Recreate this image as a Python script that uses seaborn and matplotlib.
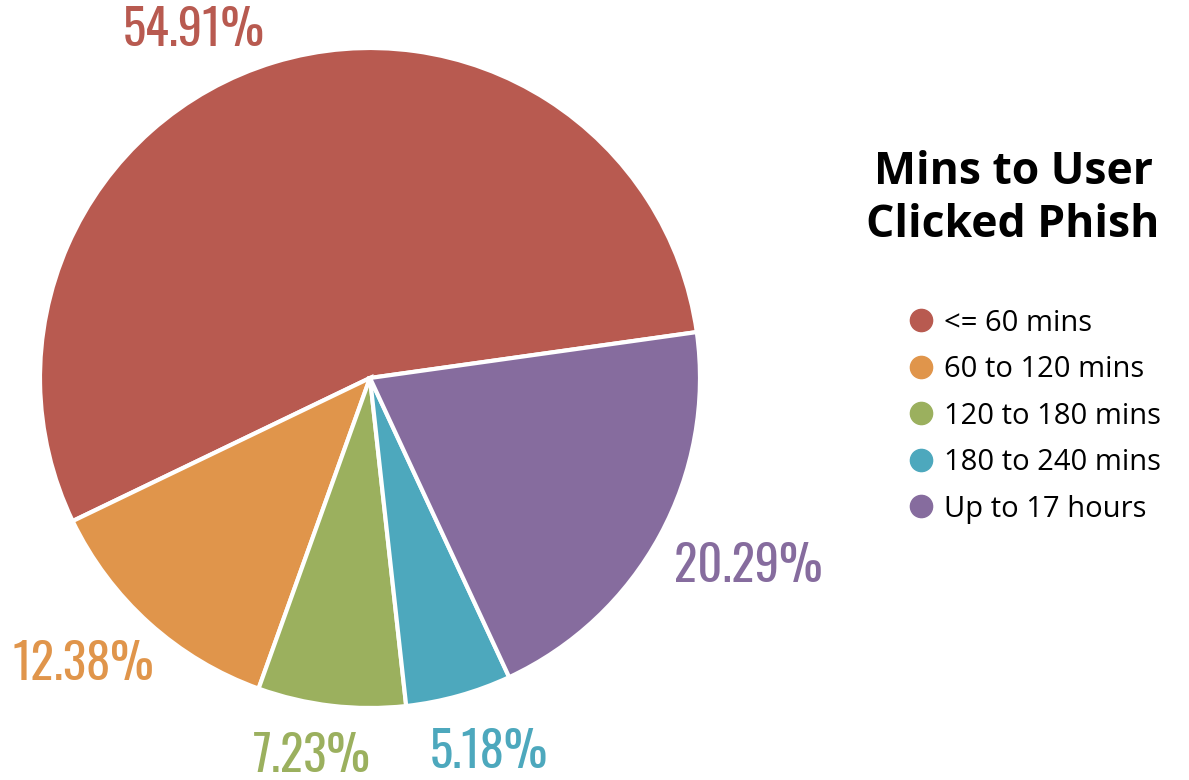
import numpy as np
import matplotlib
matplotlib.use("Agg")
import matplotlib.pyplot as plt
from matplotlib.lines import Line2D
import seaborn as sns

# data
categories = ["<= 60 mins", "60 to 120 mins", "120 to 180 mins", "180 to 240 mins", "Up to 17 hours"]
shares = [54.91, 12.38, 7.23, 5.18, 20.29]
colors = ["#B85A50", "#E0954B", "#9BB05E", "#4DA8BD", "#866C9E"]

sns.set_theme(style="white")
plt.rcParams["font.family"] = ["Open Sans", "DejaVu Sans"]
plt.rcParams["text.color"] = "black"

fig = plt.figure(figsize=(11.89, 7.80), dpi=100)
ax = fig.add_axes([40 / 1189, 72 / 780, 660 / 1189, 660 / 780])

wedges, _ = ax.pie(shares, colors=colors, startangle=8, counterclock=True,
                   wedgeprops=dict(edgecolor="white", linewidth=3))
ax.set_xlim(-1, 1)
ax.set_ylim(-1, 1)
ax.set_aspect("equal")
ax.axis("off")

# percentage labels around the pie
angle_shift = [10, -3, -2, 2, 2]
label_r = [1.18, 1.23, 1.16, 1.19, 1.28]
for w, val, c, da, r in zip(wedges, shares, colors, angle_shift, label_r):
    mid = np.deg2rad((w.theta1 + w.theta2) / 2 + da)
    ax.text(r * np.cos(mid), r * np.sin(mid), f"{val:.2f}%", color=c,
            ha="center", va="center", fontsize=35,
            family=["Oswald", "Roboto Condensed", "DejaVu Sans"], clip_on=False)

# legend title
fig.text(1013 / 1189, 1 - 199 / 780, "Mins to User\nClicked Phish", ha="center", va="center",
         fontsize=32, fontweight="bold", linespacing=1.25)

handles = [Line2D([0], [0], marker="o", linestyle="none", markersize=16,
                  markerfacecolor=c, markeredgecolor=c) for c in colors]
fig.legend(handles, categories, loc="upper left", bbox_to_anchor=(896 / 1189, 1 - 297 / 780),
           frameon=False, fontsize=21, labelspacing=0.6, handletextpad=0.35,
           handlelength=0.9, borderaxespad=0)

fig.savefig("out.png", dpi=100)
